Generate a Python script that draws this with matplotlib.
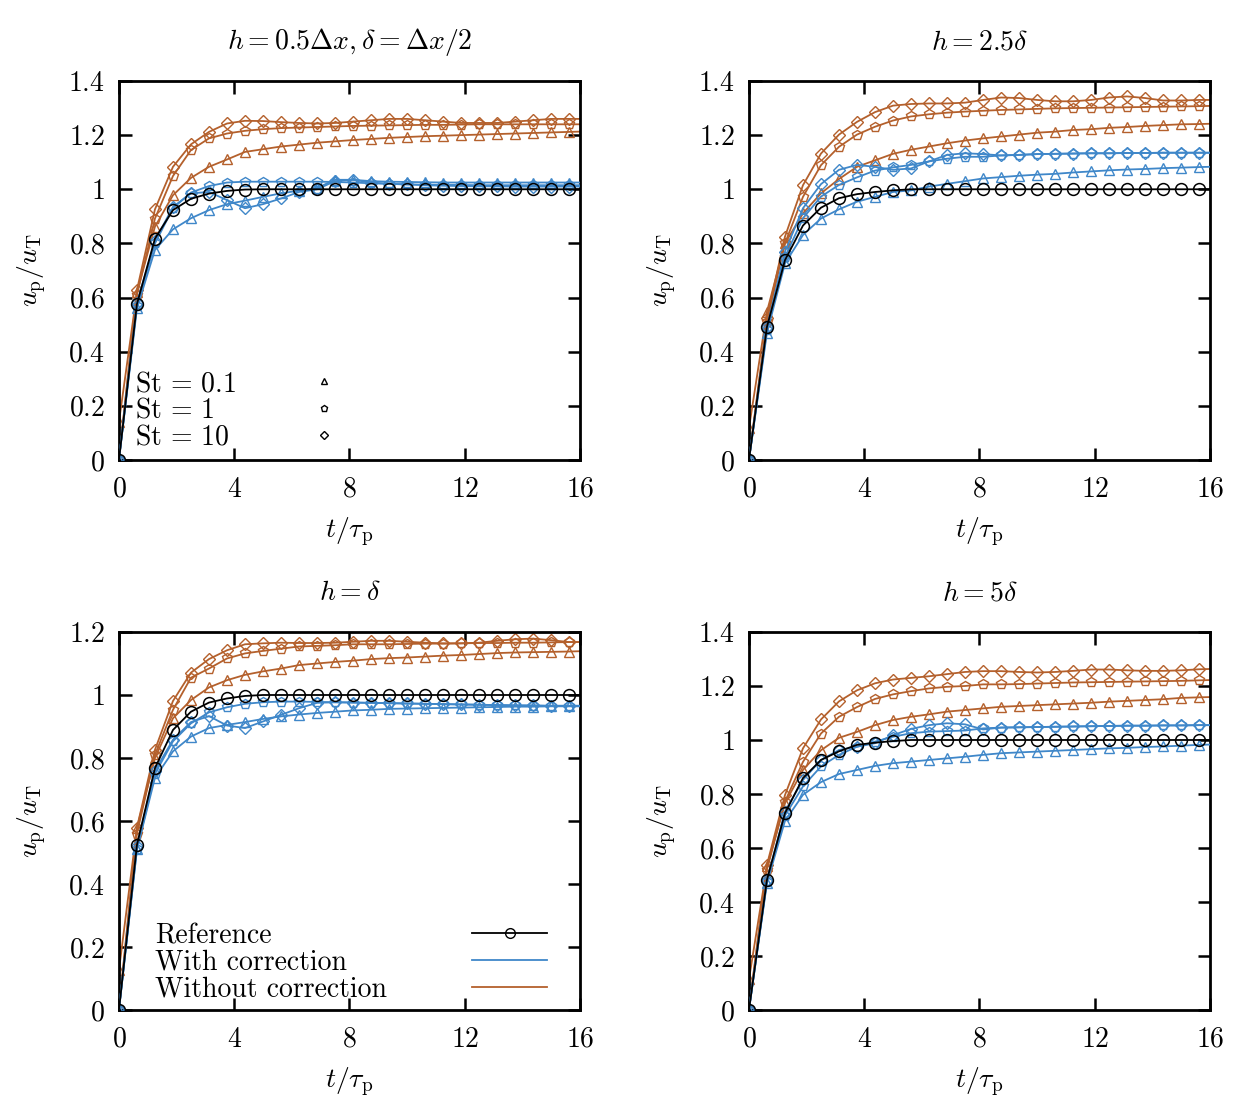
import numpy as np
import matplotlib
matplotlib.use("Agg")
import matplotlib.pyplot as plt
from matplotlib.lines import Line2D

plt.rcParams['mathtext.fontset'] = 'cm'
plt.rcParams['font.family'] = ['cmr10', 'DejaVu Serif']
plt.rcParams['axes.unicode_minus'] = False

# time axis t/tau_p (markers every 0.625, line ends at 16)
t = [0.625 * k for k in range(26)] + [16.0]

titles = [r'$h = 0.5\Delta x, \delta = \Delta x/2$', r'$h = 2.5\delta$', r'$h = \delta$', r'$h = 5\delta$']
ylims = [1.4, 1.4, 1.2, 1.4]
xticks = [0, 4, 8, 12, 16]
xticklabels = ['0', '4', '8', '12', '16']
yticks14 = [0, 0.2, 0.4, 0.6, 0.8, 1.0, 1.2, 1.4]
yticklabels14 = ['0', '0.2', '0.4', '0.6', '0.8', '1', '1.2', '1.4']
yticks12 = [0, 0.2, 0.4, 0.6, 0.8, 1.0, 1.2]
yticklabels12 = ['0', '0.2', '0.4', '0.6', '0.8', '1', '1.2']

# ---- panel 1: h = 0.5 dx
ref1 = [0, 0.576, 0.818, 0.923, 0.965, 0.984, 0.994, 0.999] + [1.0] * 19
wc_st01_1 = [0, 0.56, 0.776, 0.852, 0.893, 0.923, 0.945, 0.958, 0.972, 0.985, 0.995, 1.005, 1.035, 1.035, 1.03, 1.028,
             1.027, 1.026, 1.025, 1.025, 1.025, 1.025, 1.025, 1.025, 1.025, 1.025, 1.025]
wc_st1_1 = [0, 0.57, 0.80, 0.93, 0.988, 1.012, 1.025, 1.028, 1.028, 1.028, 1.028, 1.028, 1.027, 1.025, 1.022, 1.02,
            1.018, 1.017, 1.016, 1.016, 1.015, 1.015, 1.015, 1.015, 1.015, 1.015, 1.015]
wc_st10_1 = [0, 0.58, 0.81, 0.935, 0.985, 0.99, 0.96, 0.93, 0.945, 0.966, 0.99, 1.0, 1.03, 1.035, 1.025, 1.02,
             1.018, 1.015, 1.013, 1.012, 1.011, 1.011, 1.01, 1.01, 1.01, 1.01, 1.01]
nc_st01_1 = [0.14, 0.62, 0.862, 0.978, 1.042, 1.083, 1.11, 1.138, 1.148, 1.158, 1.165, 1.172, 1.177, 1.182, 1.186,
             1.19, 1.193, 1.196, 1.198, 1.2, 1.202, 1.204, 1.206, 1.208, 1.21, 1.212, 1.213]
nc_st1_1 = [0, 0.61, 0.892, 1.049, 1.145, 1.188, 1.206, 1.216, 1.222, 1.226, 1.228, 1.23, 1.232, 1.234, 1.235,
            1.236, 1.237, 1.238, 1.238, 1.239, 1.24, 1.24, 1.24, 1.24, 1.24, 1.24, 1.24]
nc_st10_1 = [0, 0.628, 0.926, 1.083, 1.166, 1.212, 1.243, 1.253, 1.252, 1.248, 1.245, 1.243, 1.245, 1.25, 1.255,
             1.26, 1.26, 1.255, 1.25, 1.245, 1.245, 1.245, 1.25, 1.255, 1.26, 1.26, 1.26]

# ---- panel 2: h = 2.5 delta
ref2 = [0, 0.492, 0.738, 0.866, 0.932, 0.967, 0.982, 0.99, 0.996] + [1.0] * 18
wc_st01_2 = [0, 0.47, 0.726, 0.831, 0.892, 0.926, 0.954, 0.972, 0.99, 0.996, 1.01, 1.02, 1.03, 1.04, 1.045, 1.05,
             1.054, 1.057, 1.062, 1.066, 1.07, 1.073, 1.075, 1.078, 1.08, 1.082, 1.083]
wc_st1_2 = [0, 0.48, 0.75, 0.893, 0.973, 1.016, 1.044, 1.069, 1.081, 1.09, 1.103, 1.113, 1.12, 1.12, 1.125, 1.127,
            1.13, 1.131, 1.132, 1.133, 1.133, 1.134, 1.134, 1.135, 1.135, 1.135, 1.135]
wc_st10_2 = [0, 0.49, 0.77, 0.93, 1.019, 1.072, 1.09, 1.083, 1.072, 1.077, 1.103, 1.127, 1.133, 1.13, 1.125, 1.127,
             1.13, 1.131, 1.132, 1.133, 1.133, 1.134, 1.134, 1.135, 1.135, 1.135, 1.135]
nc_st01_2 = [0.117, 0.548, 0.80, 0.911, 0.985, 1.038, 1.083, 1.107, 1.131, 1.146, 1.158, 1.17, 1.18, 1.188, 1.195,
             1.202, 1.209, 1.213, 1.219, 1.222, 1.227, 1.23, 1.234, 1.237, 1.24, 1.241, 1.242]
nc_st1_2 = [0, 0.51, 0.80, 0.972, 1.089, 1.157, 1.202, 1.231, 1.254, 1.269, 1.277, 1.283, 1.287, 1.29, 1.293,
            1.295, 1.297, 1.299, 1.3, 1.301, 1.302, 1.303, 1.304, 1.305, 1.306, 1.307, 1.308]
nc_st10_2 = [0, 0.523, 0.825, 1.015, 1.132, 1.202, 1.249, 1.285, 1.309, 1.315, 1.317, 1.317, 1.32, 1.33, 1.339,
             1.337, 1.33, 1.325, 1.325, 1.33, 1.339, 1.343, 1.337, 1.328, 1.328, 1.33, 1.33]

# ---- panel 3: h = delta
ref3 = [0, 0.524, 0.768, 0.889, 0.947, 0.976, 0.989, 0.997] + [1.0] * 19
wc_st01_3 = [0, 0.51, 0.737, 0.821, 0.868, 0.895, 0.905, 0.914, 0.924, 0.932, 0.938, 0.943, 0.947, 0.951, 0.953,
             0.956, 0.957, 0.958, 0.959, 0.96, 0.961, 0.962, 0.963, 0.963, 0.964, 0.964, 0.964]
wc_st1_3 = [0, 0.51, 0.75, 0.853, 0.91, 0.945, 0.961, 0.972, 0.977, 0.979, 0.979, 0.978, 0.977, 0.976, 0.975,
            0.974, 0.973, 0.972, 0.971, 0.97, 0.969, 0.968, 0.967, 0.966, 0.965, 0.965, 0.965]
wc_st10_3 = [0, 0.52, 0.76, 0.858, 0.914, 0.933, 0.903, 0.895, 0.916, 0.937, 0.958, 0.975, 0.977, 0.976, 0.975,
             0.974, 0.973, 0.972, 0.971, 0.97, 0.969, 0.968, 0.967, 0.967, 0.966, 0.966, 0.966]
nc_st01_3 = [0.126, 0.579, 0.80, 0.926, 0.984, 1.024, 1.047, 1.064, 1.075, 1.084, 1.095, 1.1, 1.105, 1.109, 1.114,
             1.117, 1.119, 1.122, 1.125, 1.127, 1.13, 1.133, 1.135, 1.136, 1.137, 1.138, 1.139]
nc_st1_3 = [0, 0.56, 0.81, 0.953, 1.055, 1.084, 1.116, 1.132, 1.14, 1.147, 1.154, 1.156, 1.158, 1.161, 1.161,
            1.161, 1.162, 1.163, 1.163, 1.164, 1.165, 1.165, 1.166, 1.166, 1.167, 1.168, 1.168]
nc_st10_3 = [0, 0.579, 0.826, 0.981, 1.071, 1.114, 1.142, 1.161, 1.164, 1.166, 1.165, 1.165, 1.166, 1.169, 1.172,
             1.172, 1.169, 1.166, 1.164, 1.164, 1.166, 1.172, 1.177, 1.179, 1.174, 1.168, 1.168]

# ---- panel 4: h = 5 delta
ref4 = [0, 0.482, 0.729, 0.859, 0.926, 0.958, 0.982, 0.99, 0.996] + [1.0] * 18
wc_st01_4 = [0, 0.47, 0.70, 0.797, 0.844, 0.874, 0.889, 0.904, 0.914, 0.92, 0.926, 0.932, 0.938, 0.945, 0.951,
             0.954, 0.957, 0.96, 0.963, 0.966, 0.969, 0.971, 0.974, 0.976, 0.979, 0.982, 0.983]
wc_st1_4 = [0, 0.475, 0.72, 0.828, 0.902, 0.945, 0.975, 0.994, 1.012, 1.025, 1.031, 1.033, 1.035, 1.043, 1.046,
            1.047, 1.048, 1.049, 1.05, 1.051, 1.052, 1.053, 1.053, 1.054, 1.054, 1.055, 1.055]
wc_st10_4 = [0, 0.48, 0.735, 0.852, 0.926, 0.963, 0.975, 0.988, 1.018, 1.041, 1.055, 1.062, 1.058, 1.039, 1.046,
             1.047, 1.048, 1.049, 1.05, 1.051, 1.052, 1.053, 1.053, 1.054, 1.054, 1.055, 1.055]
nc_st01_4 = [0.113, 0.532, 0.766, 0.889, 0.962, 1.008, 1.03, 1.055, 1.074, 1.086, 1.095, 1.105, 1.111, 1.117, 1.123,
             1.126, 1.129, 1.132, 1.135, 1.138, 1.142, 1.145, 1.148, 1.151, 1.156, 1.158, 1.159]
nc_st1_4 = [0, 0.52, 0.772, 0.919, 1.024, 1.086, 1.122, 1.152, 1.169, 1.181, 1.191, 1.197, 1.2, 1.206, 1.206,
            1.207, 1.209, 1.211, 1.213, 1.214, 1.215, 1.216, 1.217, 1.218, 1.219, 1.221, 1.222]
nc_st10_4 = [0, 0.538, 0.796, 0.969, 1.076, 1.143, 1.184, 1.21, 1.224, 1.23, 1.236, 1.244, 1.252, 1.255, 1.255,
             1.252, 1.25, 1.252, 1.256, 1.261, 1.261, 1.258, 1.256, 1.256, 1.258, 1.262, 1.263]

panels = [
    (ref1, [wc_st01_1, wc_st1_1, wc_st10_1], [nc_st01_1, nc_st1_1, nc_st10_1]),
    (ref2, [wc_st01_2, wc_st1_2, wc_st10_2], [nc_st01_2, nc_st1_2, nc_st10_2]),
    (ref3, [wc_st01_3, wc_st1_3, wc_st10_3], [nc_st01_3, nc_st1_3, nc_st10_3]),
    (ref4, [wc_st01_4, wc_st1_4, wc_st10_4], [nc_st01_4, nc_st1_4, nc_st10_4]),
]

st_labels = [r'$\mathrm{St}\,=\,0.1$', r'$\mathrm{St}\,=\,1$', r'$\mathrm{St}\,=\,10$']
series_labels = ['Reference', 'With correction', 'Without correction']

BLUE = '#3f87c9'
ORANGE = '#b4602c'
markers = ['^', 'p', 'D']
msizes = [7.5, 7.5, 6]
FS = 20


def two_part_legend(ax, handles, labels, spacer, x_text, x_handle, y, hlen):
    blank = [Line2D([], [], ls='none') for _ in labels]
    leg_txt = ax.legend(blank, labels, loc='lower left', bbox_to_anchor=(x_text, y), frameon=False,
                        fontsize=FS, handlelength=0, handletextpad=0, labelspacing=0.02,
                        borderaxespad=0, borderpad=0)
    ax.add_artist(leg_txt)
    # handle column: tiny invisible spacer labels keep the same row heights
    ax.legend(handles, [spacer] * len(labels), loc='lower left', bbox_to_anchor=(x_handle, y),
              frameon=False, fontsize=FS, handlelength=hlen, handletextpad=0, labelspacing=0.02,
              borderaxespad=0, borderpad=0, labelcolor='none', numpoints=1)


fig = plt.figure(figsize=(12.6, 11.02), dpi=100)
boxes = [
    [0.0944, 0.5826, 0.3659, 0.3439],
    [0.5944, 0.5826, 0.3659, 0.3439],
    [0.0944, 0.0835, 0.3659, 0.3430],
    [0.5944, 0.0835, 0.3659, 0.3430],
]
mk = slice(0, 26)
for i, (ref, wc, nc) in enumerate(panels):
    ax = fig.add_axes(boxes[i])
    for j in range(3):
        ax.plot(t, nc[j], color=ORANGE, lw=1.3, marker=markers[j], ms=msizes[j], mfc='none',
                mec=ORANGE, mew=1.0, markevery=mk, zorder=2)
    for j in range(3):
        ax.plot(t, wc[j], color=BLUE, lw=1.3, marker=markers[j], ms=msizes[j], mfc='none',
                mec=BLUE, mew=1.0, markevery=mk, zorder=3)
    ax.plot(t, ref, color='black', lw=1.3, marker='o', ms=8.5, mfc='none', mec='black', mew=1.1,
            markevery=mk, zorder=4)
    ax.set_xlim(0, 16)
    ax.set_ylim(0, ylims[i])
    ax.set_xticks(xticks)
    ax.set_xticklabels(['$' + s + '$' for s in xticklabels])
    if ylims[i] == 1.4:
        ax.set_yticks(yticks14)
        ax.set_yticklabels(['$' + s + '$' for s in yticklabels14])
    else:
        ax.set_yticks(yticks12)
        ax.set_yticklabels(['$' + s + '$' for s in yticklabels12])
    ax.tick_params(direction='in', length=9, width=1.8, top=True, right=True, labelsize=FS)
    ax.tick_params(axis='x', pad=12)
    ax.tick_params(axis='y', pad=10)
    for sp in ax.spines.values():
        sp.set_linewidth(2.0)
    ax.set_xlabel(r'$t/\tau_{\rm p}$', fontsize=FS, labelpad=9)
    ax.set_ylabel(r'$u_{\rm p}/u_{\rm T}$', fontsize=FS, labelpad=15)
    ax.set_title(titles[i], fontsize=FS, pad=23)

    if i == 0:
        handles = [Line2D([], [], ls='none', marker=markers[j], ms=msizes[j] * 0.65, mfc='none',
                          mec='black', mew=1.0) for j in range(3)]
        two_part_legend(ax, handles, st_labels, r'$\mathrm{S}$', 0.035, 0.40, 0.024, 1.5)
    if i == 2:
        handles = [Line2D([], [], color='black', lw=1.3, marker='o', ms=7, mfc='none', mec='black'),
                   Line2D([], [], color=BLUE, lw=1.3),
                   Line2D([], [], color=ORANGE, lw=1.3)]
        two_part_legend(ax, handles, series_labels, 'l', 0.078, 0.766, 0.019, 2.7)

fig.savefig('out.png', dpi=100)
